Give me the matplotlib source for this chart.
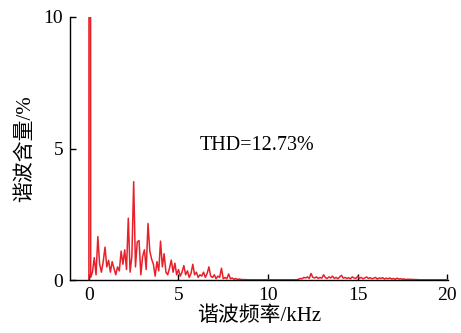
import numpy as np
import matplotlib
matplotlib.use('Agg')
import matplotlib.pyplot as plt

plt.rcParams['font.family'] = ['Liberation Serif', 'Noto Sans CJK SC']
plt.rcParams['mathtext.fontset'] = 'stix'

# fundamental (50 Hz) -- far above the plotted range
fund_khz = [0.0, 0.05]
fund_pct = [0.0, 100.0]

# low band harmonics, 0.1 kHz steps from 0.1 to 8.5 kHz
low_khz = np.round(np.arange(0.1, 8.55, 0.1), 2)
low_pct = [0.10, 0.30, 0.85, 0.20, 1.65, 0.60, 0.30, 0.70, 1.25, 0.50,
           0.75, 0.30, 0.70, 0.45, 0.20, 0.50, 0.35, 1.10, 0.60, 1.15,
           0.40, 2.35, 0.30, 0.90, 3.74, 0.50, 1.45, 1.50, 0.20, 0.90,
           1.15, 0.40, 2.15, 1.10, 0.80, 0.60, 0.15, 0.70, 0.35, 1.48,
           0.50, 1.00, 0.30, 0.20, 0.45, 0.76, 0.30, 0.64, 0.20, 0.40,
           0.15, 0.30, 0.55, 0.20, 0.35, 0.10, 0.25, 0.60, 0.20, 0.30,
           0.10, 0.20, 0.15, 0.30, 0.10, 0.25, 0.50, 0.15, 0.10, 0.20,
           0.05, 0.15, 0.10, 0.45, 0.05, 0.10, 0.05, 0.23, 0.05, 0.08,
           0.03, 0.06, 0.02, 0.04, 0.02]

# quiet region between the bands
gap_khz = [9.0, 10.0, 11.0, 11.6]
gap_pct = [0.01, 0.01, 0.01, 0.01]

# high band, 0.1 kHz steps from 11.7 to 17.8 kHz
high_khz = np.round(np.arange(11.7, 17.85, 0.1), 2)
high_pct = [0.03, 0.06, 0.05, 0.10, 0.08, 0.12, 0.06, 0.25, 0.10, 0.08,
            0.12, 0.06, 0.10, 0.07, 0.20, 0.09, 0.06, 0.12, 0.08, 0.15,
            0.06, 0.10, 0.05, 0.12, 0.18, 0.07, 0.10, 0.06, 0.09, 0.05,
            0.12, 0.08, 0.06, 0.14, 0.07, 0.10, 0.05, 0.08, 0.12, 0.06,
            0.09, 0.05, 0.07, 0.10, 0.04, 0.08, 0.06, 0.09, 0.04, 0.07,
            0.05, 0.08, 0.04, 0.06, 0.03, 0.07, 0.04, 0.05, 0.03, 0.04,
            0.02, 0.03]

tail_khz = [18.5, 20.0]
tail_pct = [0.01, 0.01]

thd_text = 'THD=12.73%'

khz = np.concatenate([fund_khz, low_khz, gap_khz, high_khz, tail_khz])
pct = np.concatenate([fund_pct, low_pct, gap_pct, high_pct, tail_pct])

fig = plt.figure(figsize=(4.61, 3.33), dpi=100)
ax = fig.add_axes([0.152, 0.159, 0.82, 0.79])
ax.plot(khz, pct, color='#e8202a', lw=1.1)

ax.set_xlim(-1.05, 20.05)
ax.set_ylim(0, 10)
ax.set_xticks([0, 5, 10, 15, 20])
ax.set_yticks([0, 5, 10])
ax.spines['top'].set_visible(False)
ax.spines['right'].set_visible(False)
for s in ('left', 'bottom'):
    ax.spines[s].set_linewidth(1.0)
ax.tick_params(direction='in', length=4, width=1.0, labelsize=14, pad=5)

ax.set_xlabel('谐波频率/kHz', fontsize=15, labelpad=2)
ax.set_ylabel('谐波含量/%', fontsize=15, labelpad=6)
ax.text(9.4, 5.13, thd_text, fontsize=14.5, ha='center', va='center')

fig.savefig('out.png', dpi=100)
